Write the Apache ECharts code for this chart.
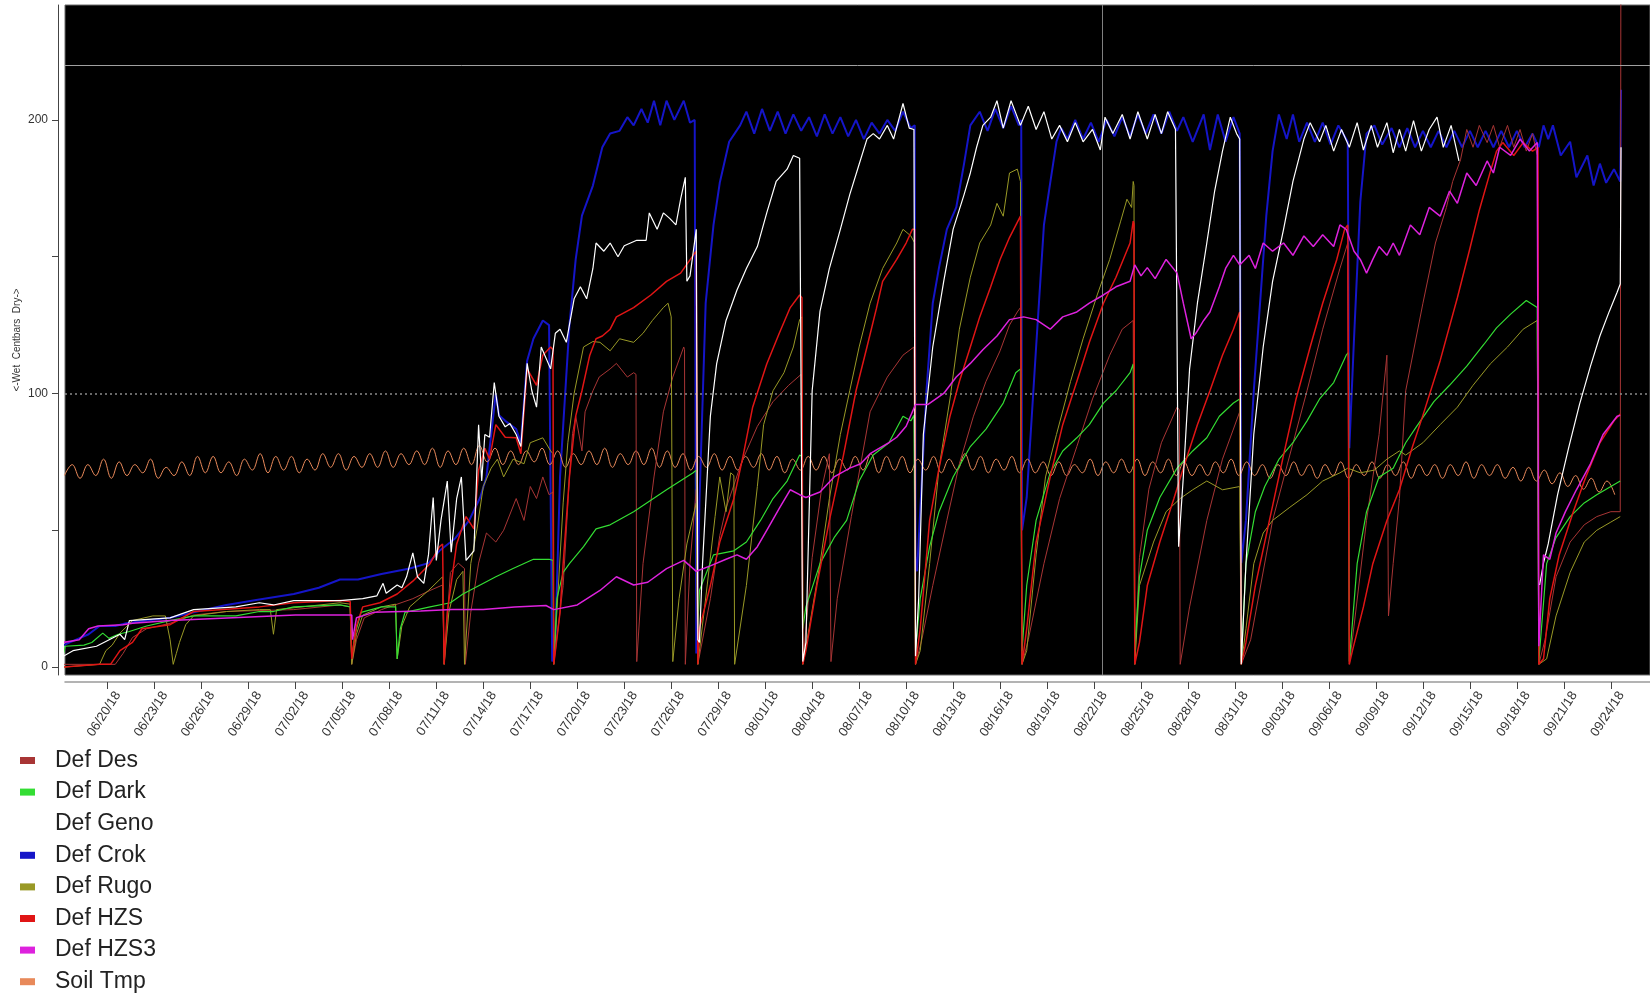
<!DOCTYPE html>
<html>
<head>
<meta charset="utf-8">
<script src="https://cdn.jsdelivr.net/npm/echarts@6/dist/echarts.min.js"></script>
<style>
  html, body { margin: 0; padding: 0; background: #fff; }
  #chart { width: 1650px; height: 998px; }
</style>
</head>
<body>
<div id="chart"></div>
<script>
// x values are days since 06/20/18 00:00, y values are centibars

// tick labels every 3 days
const dateLabels = ['06/20/18','06/23/18','06/26/18','06/29/18','07/02/18','07/05/18','07/08/18','07/11/18',
  '07/14/18','07/17/18','07/20/18','07/23/18','07/26/18','07/29/18','08/01/18','08/04/18','08/07/18',
  '08/10/18','08/13/18','08/16/18','08/19/18','08/22/18','08/25/18','08/28/18','08/31/18','09/03/18',
  '09/06/18','09/09/18','09/12/18','09/15/18','09/18/18','09/21/18','09/24/18'];
const yLabelValues = [0, 100, 200];
const yTickValues = [0, 50, 100, 150, 200];

// reference lines
const upperLimit = 220;
const lowerLimit = 100;
const markerDay = 63.5;

const desData = [[-2.8,1],[0.5,1],[1.0,5],[1.6,10.8],[2.5,14],[4,16],[5.5,19],[7.6,20.3],[11.9,21],[14.85,22.7],
  [15.5,22],[15.6,1],[15.9,10],[16.4,18],[17.5,21],[18.5,23],[19.5,25],[20.6,28],[21.4,30],[21.5,1],[21.9,34.6],
  [22.4,38],[22.8,36],[22.85,1],[23.2,20],[23.7,38],[24.2,49],[24.8,45.7],[25.3,50],[26.1,61.6],[26.6,53.6],
  [27.0,66],[27.4,61.6],[27.8,69.5],[28.2,63],[28.45,64],[28.5,1],[29.1,29.8],[29.5,69.5],[29.7,85.4],[29.9,91.7],
  [30.3,79],[30.5,93.3],[31.0,101],[31.4,106],[32.1,109],[32.5,111],[33.2,106],[33.6,107.6],[33.75,107],[33.8,2],
  [34.2,37.8],[34.9,69.5],[35.5,93.3],[36.1,106],[36.8,117],[36.85,116],[36.9,1],[37.2,37.8],[37.6,65],[37.7,1],
  [38.5,25],[39.1,48],[39.5,58],[40.5,75],[41.5,88],[42.5,97],[43.5,103],[44.3,107],[44.4,1],[45.0,40],[45.6,65],
  [46.1,78],[46.2,2],[46.6,25],[47.5,55],[48.7,93.3],[49.8,106],[50.8,114],[51.5,117],[51.6,1],[52.0,10],
  [52.7,29.8],[53.6,53.6],[54.4,74.3],[55.3,91.7],[56.1,104.4],[57.0,115.6],[57.6,125],[58.1,129.8],[58.3,131.4],
  [58.4,1],[58.8,10],[59.8,37.8],[60.8,61.6],[61.9,80.6],[62.9,98],[64.0,114],[64.8,123.5],[65.5,126.7],[65.6,1],
  [65.9,40],[66.5,65],[67.3,82],[68.3,95],[68.45,94],[68.5,1],[69.1,22],[70.2,53.6],[71.2,76],[72.3,93.3],[72.4,1],
  [73.0,10],[74.4,53.6],[75.5,77.5],[76.6,101],[77.6,123.5],[78.7,145.7],[79.2,155],[79.3,1],[79.6,15],[80.4,53.6],
  [81.2,85],[81.7,114],[81.8,18.7],[82.1,37.8],[82.5,61.6],[82.9,101],[84.0,133],[84.8,155],[85.5,168],[85.9,177.5],
  [86.4,185.4],[86.8,196.5],[87.2,190],[87.6,198],[88.1,191.7],[88.5,198],[88.9,190],[89.4,198],[89.8,190],
  [90.2,196.5],[90.6,188.6],[91.0,195],[91.3,187],[91.4,1],[91.8,10],[92.5,33],[93.4,45.7],[94.3,52],[95.1,55],
  [96.0,56.8],[96.6,56.8],[96.65,300]];

const darkData = [[-2.8,5],[-2.7,7.6],[-1.5,8],[-1.0,9],[-0.3,12.4],[0.1,10.5],[0.7,12],[1.4,13],[2.5,15],[4,17],
  [5.5,18.7],[8.2,18.7],[9.7,20.3],[10.6,20.3],[11.9,22],[14.85,22.7],[15.5,22],[15.6,3],[15.8,12],[16.2,20],
  [17.5,22],[18.4,22],[18.5,3],[18.7,14],[19.0,20],[20.6,22],[21.9,23.5],[22.7,26.7],[23.8,30],[24.8,33],[25.9,36],
  [27.2,39.4],[28.2,39.4],[28.45,39],[28.5,1.3],[28.7,25],[29.1,34.6],[29.5,37.8],[30.4,44],[31.2,50.5],[32.1,52],
  [33.6,56.8],[35.7,64.8],[37.4,71],[37.6,72],[37.7,14],[37.8,28],[38.7,41],[40.0,42.5],[40.8,45.7],[41.7,53.6],
  [42.5,61.6],[43.4,68],[44.2,77.5],[44.35,77],[44.4,14],[44.6,22],[45.5,37.8],[46.4,47.3],[47.2,53.6],[48.0,68],
  [48.9,77.5],[49.9,82],[50.8,91.7],[51.3,90],[51.5,92],[51.6,6],[51.9,25],[52.5,44],[53.1,56.8],[54.0,69.5],
  [55.1,80.6],[56.1,87],[57.2,96.5],[58.0,107.6],[58.3,109],[58.4,6],[58.7,29.8],[59.3,53.6],[60.2,71],[61.0,79],
  [61.9,83.8],[62.7,88.6],[63.6,96.5],[64.4,101],[65.3,107.6],[65.5,110.8],[65.6,6],[65.9,33],[66.4,50],[67.2,62],
  [68.3,72.7],[69.3,79],[70.2,83.8],[71.0,91.7],[71.9,96.5],[72.3,98],[72.4,2],[72.7,37.8],[73.3,56.8],[73.9,66],
  [74.8,75.9],[75.7,82],[76.6,90],[77.4,98],[78.3,104],[79.1,114],[79.25,115],[79.3,2],[79.8,37.8],[80.4,56.8],
  [81.2,69.5],[82.1,72.7],[82.9,82],[83.6,88],[84.7,97],[85.7,103],[86.8,110],[87.9,118],[88.7,124],[89.6,129],
  [90.6,134],[91.3,131.4],[91.4,2],[91.9,37.8],[92.5,47.3],[93.4,55],[94.3,60],[95.1,63],[96.0,66],[96.6,68]];

const genoData = [[-2.8,4],[-2.2,6],[-0.7,7.6],[0.8,12],[1.1,10],[1.4,17],[4,18],[5.5,21],[8.2,22],[9.7,23.5],
  [10.6,22.7],[11.9,24.3],[14.85,24.3],[16.3,25],[17.2,26],[17.6,30.6],[17.8,27],[18.5,30],[18.8,29],[19.1,33],
  [19.5,41.7],[19.8,33],[20.2,30.6],[20.5,41],[20.8,62],[21.0,39],[21.3,53.7],[21.7,68],[21.95,42],[22.3,61.6],
  [22.6,69.5],[22.9,39],[23.4,42.5],[23.7,88.6],[23.9,68],[24.1,85],[24.4,84],[24.7,104],[25.0,91.7],[25.4,87.8],
  [25.7,89],[26.1,85],[26.4,80.6],[26.8,111],[27.1,101],[27.4,95],[27.7,117],[28.3,109],[28.6,122],[28.9,123.5],
  [29.3,118.7],[29.8,134.6],[30.2,139],[30.6,134.6],[31.0,145.7],[31.2,155],[31.7,152],[32.1,155],[32.6,150],
  [33.0,154],[33.4,155],[33.8,156],[34.4,156],[34.6,166],[35.1,160],[35.5,166],[35.9,164],[36.3,161.6],[36.6,171],
  [36.9,179],[37.0,141],[37.2,143],[37.6,160],[37.7,10],[37.8,9],[38.0,37.8],[38.5,91.7],[38.9,110.8],[39.5,126.7],
  [40.2,137.8],[40.8,145.7],[41.5,153.7],[42.1,166],[42.7,177.5],[43.4,182],[43.8,187],[44.2,186],[44.4,2],[44.6,9],
  [45.0,101],[45.5,130],[46.1,145.7],[46.8,160],[47.4,172.7],[48.0,183.8],[48.5,193],[48.9,195],[49.3,193],
  [49.8,198],[50.2,193],[50.8,206],[51.2,197],[51.5,196.5],[51.6,4],[51.8,25],[52.1,85],[52.7,117],[53.4,141],
  [54.0,160],[54.7,172.7],[55.1,180.6],[55.5,190],[55.9,198],[56.4,201],[56.8,207],[57.2,197],[57.7,207],[58.3,198],
  [58.8,205],[59.3,196.5],[59.8,203],[60.3,193],[60.8,198],[61.3,192],[61.8,199],[62.3,192],[62.9,196.5],[63.4,189],
  [63.7,201],[64.2,195],[64.8,202],[65.3,193],[65.8,203],[66.4,193],[66.9,202],[67.3,195],[67.7,203],[68.2,196.5],
  [68.4,44],[68.7,69.5],[69.1,109],[69.6,133],[70.2,155],[70.7,174],[71.2,188.6],[71.7,201],[72.1,195],[72.3,193],
  [72.4,1],[72.7,37.8],[73.2,85],[73.8,117],[74.4,141],[75.1,160],[75.7,177.5],[76.4,193],[76.8,199],[77.4,192],
  [77.8,198],[78.3,188.6],[78.8,196.5],[79.3,190],[79.8,199],[80.2,189],[80.7,198],[81.1,190],[81.7,199],[82.1,188],
  [82.5,196.5],[82.9,188.6],[83.4,199.7],[83.9,188.6],[84.4,196.5],[84.9,201],[85.3,190],[85.8,198],[86.3,185],
  [86.4,null],[91.45,30],[91.7,38],[92.0,45],[92.6,63],[93.3,80],[94.0,96],[94.7,110],[95.3,121],[95.9,130],
  [96.4,137],[96.6,140],[96.65,190]];

const crokData = [[-2.8,8],[-2,10],[-1.2,12],[-0.5,15],[0.5,15],[1.2,16],[2.5,17],[4,18],[5.5,20],[7.6,22.7],
  [9.5,24.5],[11.9,26.7],[13.5,29],[14.85,32],[16,32],[17.5,34],[19.3,36],[20.5,38],[21.2,42.5],[22.2,47],
  [23.1,53.6],[23.8,62],[24.2,69.5],[24.8,100],[25.0,92],[25.4,90],[26.1,87],[26.4,82],[26.8,112],[27.2,120],
  [27.8,126.7],[28.2,125],[28.4,2],[28.6,10],[28.9,69.5],[29.5,125],[29.9,149],[30.3,165],[31.0,176],[31.6,190],
  [32.1,195],[32.7,196],[33.2,201],[33.6,198],[34.1,204],[34.5,199],[34.9,207],[35.3,198],[35.7,207],[36.2,200],
  [36.8,207],[37.2,199],[37.5,200],[37.6,5],[37.8,60],[38.2,133],[38.7,161.6],[39.1,177],[39.7,192],[40.4,198],
  [40.8,203],[41.3,195],[41.8,204],[42.3,196],[42.8,203],[43.3,195],[43.8,202],[44.3,196],[44.8,201],[45.3,194],
  [45.8,202],[46.3,195],[46.8,201],[47.3,194],[47.8,200],[48.3,193],[48.8,199],[49.3,195],[49.8,200],[50.3,196],
  [50.8,203],[51.3,197],[51.55,198],[51.6,40],[51.7,35],[52.3,101],[52.7,133],[53.1,146],[53.6,160],[54.2,168],
  [54.7,184],[55.1,198],[55.7,203],[56.2,196],[56.7,204],[57.2,197],[57.7,205],[58.2,198],[58.35,200],[58.4,50],
  [58.7,62],[59.3,117],[59.8,161.6],[60.2,177],[60.6,192],[60.9,197],[61.3,193],[61.8,200],[62.3,193],[62.8,199],
  [63.3,192],[63.8,200],[64.3,194],[64.8,201],[65.3,194],[65.8,202],[66.3,195],[66.8,202],[67.3,195],[67.8,203],
  [68.3,196],[68.7,201],[69.3,192],[70.0,202],[70.4,189],[70.9,202],[71.4,192],[71.9,201],[72.3,195],[72.4,38],
  [72.7,53.7],[73.2,101],[73.6,133],[74.0,165],[74.4,188.6],[74.8,202],[75.3,193],[75.7,202],[76.1,192],[76.6,199],
  [77.1,192],[77.6,199],[78.1,191],[78.6,198],[79.2,192],[79.3,80],[79.6,120],[80.0,170],[80.4,195],[80.9,198],
  [81.4,191],[82,197],[82.5,190],[83,197],[83.5,190],[84,196],[84.5,190],[85,196],[85.5,190],[86,196],[86.5,190],
  [87,196],[87.5,190],[88,196],[88.5,190],[89,196],[89.5,190],[90,196],[90.5,190],[91.0,195],[91.4,190],[91.7,198],
  [92.0,193],[92.3,198],[92.8,187],[93.4,192],[93.8,179],[94.5,187],[94.9,176],[95.3,184],[95.7,177],[96.2,182],
  [96.6,177.5],[96.65,211]];

const rugoData = [[-2.8,0],[-0.5,1],[-0.1,6],[0.3,8],[0.8,12.4],[1.6,17],[2.9,18.7],[3.7,18.7],[4.0,10],[4.2,1],
  [4.4,5],[4.6,9],[5.0,15.5],[5.5,18.7],[7.6,20.3],[9.7,21],[10.4,21],[10.6,12],[10.8,21],[14.85,23.5],[15.5,23],
  [15.6,1],[15.9,12],[16.3,19],[17.5,22],[18.4,23],[18.5,3],[18.8,15],[19.3,22],[20.5,28],[21.4,33],[21.5,1],
  [21.8,20],[22.3,32],[22.7,35],[22.8,1],[23.2,37.8],[23.6,50.5],[24.0,66],[24.5,72.7],[24.9,76],[25.3,69.5],
  [25.9,76],[26.6,74.3],[27.0,82],[27.8,83.8],[28.3,79],[28.45,78],[28.5,1],[28.8,30],[29.1,60],[29.4,82],[29.8,100],
  [30.4,117],[31.0,119],[31.45,118.7],[32.1,115.6],[32.7,120],[33.6,118.7],[34.2,122],[34.8,126.7],[35.5,131.4],
  [35.8,133],[36.0,128],[36.1,2],[36.5,25],[37.0,45],[37.6,60],[37.7,1],[38.3,30],[38.8,55],[39.1,69.5],[39.5,56.8],
  [39.8,71],[40.0,70],[40.05,1],[40.8,29.8],[41.5,66],[41.9,88.6],[42.5,101],[43.2,107.6],[43.8,117],[44.2,127],
  [44.35,128],[44.4,1],[44.8,14],[45.5,37.8],[46.1,61.6],[46.8,85],[47.4,101],[48.0,117],[48.7,133],[49.5,145.7],
  [50.4,155],[50.8,160],[51.3,157.6],[51.55,155],[51.6,1],[51.9,6],[52.5,37.8],[53.1,72.7],[53.8,98],[54.4,123.5],
  [55.1,142.5],[55.7,155],[56.4,161.6],[56.8,169.5],[57.2,164.8],[57.6,180.6],[58.1,182],[58.3,177.5],[58.4,1],
  [58.7,6],[59.3,41],[59.9,69.5],[60.6,85],[61.5,104.4],[62.3,120],[63.2,136],[64.0,149],[64.7,163],[65.1,171],
  [65.4,168],[65.5,177.5],[65.55,176],[65.6,1],[65.9,29.8],[66.8,45.7],[67.6,56.8],[68.5,61.6],[69.3,64.8],
  [70.2,68],[71.2,64.8],[72.3,66],[72.4,1],[72.7,14],[73.2,37.8],[73.8,49],[74.4,53.6],[75.5,58.4],[76.6,63],
  [77.6,68],[78.7,71],[79.2,72.7],[80.0,71],[80.9,72],[81.7,76],[82.5,79],[82.9,77.5],[84.0,82],[85.1,88.6],
  [86.2,95],[87.2,103],[88.3,110.8],[89.4,117],[90.4,123.5],[91.3,126.7],[91.4,1],[91.9,3],[92.5,18.7],[93.4,34.6],
  [94.3,45.7],[95.1,50],[96.0,53],[96.6,55]];

const hzsData = [[-2.8,0],[-0.5,1],[0.2,1],[0.8,6],[1.6,9],[2.2,14],[4,15.5],[5.5,20.3],[9.7,22],[11.9,23.5],
  [14.85,24.3],[15.5,24],[15.6,3],[15.9,15],[16.3,22],[17.4,23.5],[18.5,26.7],[19.5,31.4],[20.6,37.8],[21.2,44],
  [21.4,45],[21.5,1],[21.7,20],[22.3,45],[22.9,55],[23.4,50.5],[23.7,72],[24.1,80],[24.4,76],[24.8,88.6],[25.4,84],
  [26.1,83.8],[26.4,78],[26.8,109],[27.4,103],[27.8,114],[28.3,117],[28.45,116],[28.5,1],[28.9,20],[29.1,37.8],
  [29.5,69.5],[29.9,91.7],[30.3,101],[30.8,114],[31.2,120],[31.6,121],[32.1,123.5],[32.5,128],[33.6,131.4],
  [34.7,136],[35.7,141],[36.6,144],[37.4,150.5],[37.6,152],[37.7,1],[37.8,14],[38.5,29.8],[39.1,45.7],[40.0,61.6],
  [40.6,77.5],[41.2,95],[42.1,110.8],[42.9,122],[43.6,131.4],[44.2,136],[44.35,135],[44.4,1],[44.6,6],[45.3,29.8],
  [46.1,53.6],[47.0,77.5],[47.8,101],[48.5,117],[49.1,131],[49.5,141],[50.4,149],[51.0,155],[51.4,160],[51.55,160],
  [51.6,1],[51.9,14],[52.5,53.6],[53.1,72.7],[53.8,91.7],[54.4,104.4],[55.1,117],[55.7,128],[56.4,139],[57.0,149],
  [57.6,157],[58.3,164.8],[58.35,165],[58.4,1],[58.7,14],[59.3,45.7],[60.2,69.5],[61.0,88.6],[61.9,104.4],
  [62.7,118.7],[63.6,133],[64.4,142.5],[65.3,155],[65.5,163],[65.55,162],[65.6,1],[65.9,9],[66.4,29.8],[67.2,45.7],
  [68.1,61.6],[68.7,72.7],[69.6,88.6],[70.4,101],[71.2,114],[71.9,123.5],[72.3,129.8],[72.35,130],[72.4,1],[72.7,9],
  [73.3,29.8],[74.2,53.6],[75.1,77.5],[75.9,98],[76.8,117],[77.6,133],[78.5,149],[79.0,160],[79.2,161.6],[79.3,1],
  [79.5,6],[80.2,22],[80.8,37.8],[81.7,53.6],[82.5,64.8],[83.3,80],[84.0,92],[85.1,112],[86.2,135],[87.0,153],
  [87.6,167],[88.3,181],[88.7,188.6],[89.1,191.7],[89.8,187],[90.4,191.7],[91.0,188.6],[91.35,190],[91.4,1],
  [91.7,3],[92.1,25],[92.7,41],[93.6,56.8],[94.4,69.5],[95.3,82],[96.2,90],[96.6,92.5]];

const hzs3Data = [[-2.8,9],[-1.8,10],[-1.2,14],[-0.6,15],[1.0,15.5],[1.6,16],[4,17],[8,18],[12,19],[15,19],
  [15.6,19],[15.65,10],[15.9,18],[17,20],[20,20.5],[22,21],[24,21],[26,22],[28,22.5],[28.5,21],[30,22.7],
  [31.45,28],[32.5,33],[33.6,30],[34.5,31],[35.7,36],[36.8,39],[37.6,35],[38.5,37],[39.5,39.4],[40.2,41],
  [40.8,39.4],[41.5,44],[42.1,50],[42.9,58],[43.6,64.8],[44.2,63],[44.6,62],[45.5,64],[46.4,69.5],[47.4,72.7],
  [48.1,74.3],[48.7,78],[49.3,80],[49.9,82],[50.4,84],[51.0,88],[51.6,96],[52.4,96],[53.4,100],[54.2,106],
  [55.1,111],[55.9,116],[56.8,121],[57.6,127],[58.5,128],[59.3,127],[60.2,123.5],[61.0,128],[61.9,129.8],
  [62.7,133],[63.6,136],[64.4,139],[65.3,141],[65.6,147],[66.0,143],[66.4,146],[66.9,142],[67.6,149],[68.3,144],
  [68.7,133],[69.2,120],[69.5,122],[70.0,126.7],[70.4,129.8],[71.0,139],[71.4,145.7],[71.9,150.5],[72.3,147],
  [72.9,150.5],[73.3,145.7],[73.8,155],[74.4,152],[75.1,155],[75.7,150.5],[76.4,157.6],[77.0,153.7],[77.6,158],
  [78.3,153.7],[78.7,161.6],[79.1,160],[79.6,152],[80.0,149],[80.4,144],[80.8,149],[81.2,153.7],[81.7,150.5],
  [82.1,155],[82.5,150.5],[83.2,161.6],[83.8,158],[84.4,168],[85.1,164.8],[85.7,174],[86.2,169.5],[86.8,180.6],
  [87.4,176],[88.1,185],[88.5,180.6],[88.9,190],[89.6,187],[90.2,193],[90.8,188.6],[91.3,191.7],[91.4,7.6],
  [91.7,41],[92.1,39.4],[92.5,49],[93.1,56.8],[93.8,64.8],[94.7,74.3],[95.5,85],[96.4,91.7],[96.6,92]];

// soil temperature, one reading every half day starting at day -2.75
const soilStart = -2.75;
const soilStep = 0.5;
const soilTmp = [70,74,69,74,70,76,69,75,70,74,71,76,69,73,70,75,70,77,71,77,71,75,70,76,72,78,71,77,72,77,
  71,76,72,78,73,78,72,77,73,78,73,79,73,78,74,79,74,80,73,79,74,80,74,81,75,80,74,79,74,79,75,80,74,79,73,78,
  74,79,74,80,73,78,74,79,74,80,73,79,73,78,72,77,73,78,72,77,72,77,73,78,72,77,71,76,72,77,72,77,71,76,72,77,
  72,78,71,77,72,77,71,76,72,77,71,76,72,78,72,77,71,76,72,77,71,76,71,75,70,75,70,74,71,76,70,75,71,76,71,76,
  70,75,71,76,70,75,70,74,70,75,71,76,70,75,70,74,69,74,70,75,70,74,69,74,70,75,69,74,70,75,69,74,70,75,69,74,
  70,74,69,74,70,75,69,74,70,74,69,73,68,73,68,72,67,71,66,70,65,69,64,68,63];

const soilData = soilTmp.map((v, i) => [soilStart + i * soilStep, v]);
const tickDays = dateLabels.map((_, i) => i * 3);

const FONT = "Arial, 'Liberation Sans', sans-serif";

// drawing order: first is at the bottom
const seriesDefs = [
  { name: 'Def Crok', data: crokData, color: '#1515c8', width: 2 },
  { name: 'Soil Tmp', data: soilData, color: '#e8895a', width: 1, smooth: 0.4 },
  { name: 'Def Des', data: desData, color: '#a83535', width: 1 },
  { name: 'Def Rugo', data: rugoData, color: '#999926', width: 1 },
  { name: 'Def Dark', data: darkData, color: '#33dd33', width: 1.2 },
  { name: 'Def HZS', data: hzsData, color: '#e01515', width: 1.5 },
  { name: 'Def Geno', data: genoData, color: '#ffffff', width: 1.2 },
  { name: 'Def HZS3', data: hzs3Data, color: '#dd22dd', width: 1.5 }
];
const legendOrder = ['Def Des', 'Def Dark', 'Def Geno', 'Def Crok', 'Def Rugo', 'Def HZS', 'Def HZS3', 'Soil Tmp'];

const chart = echarts.init(document.getElementById('chart'));

const series = seriesDefs.map((s, i) => ({
  name: s.name,
  type: 'line',
  data: s.data,
  showSymbol: false,
  symbol: 'none',
  smooth: s.smooth || false,
  connectNulls: false,
  clip: true,
  color: s.color,
  lineStyle: { color: s.color, width: s.width },
  emphasis: { disabled: true },
  z: 2 + i
}));

// reference lines ride on the bottom series
series[0].markLine = {
  silent: true,
  symbol: ['none', 'none'],
  label: { show: false },
  animation: false,
  data: [
    { yAxis: upperLimit, lineStyle: { color: '#a0a0a0', type: 'solid', width: 1 } },
    { yAxis: lowerLimit, lineStyle: { color: '#8a8a8a', type: [2, 3], width: 1.5 } },
    { xAxis: markerDay, lineStyle: { color: '#808080', type: 'solid', width: 1 } }
  ]
};

const option = {
  animation: false,
  backgroundColor: '#ffffff',
  grid: {
    left: 65,
    right: 0,
    top: 5,
    bottom: 323,
    show: true,
    backgroundColor: '#000000',
    borderColor: '#6a6a6a',
    borderWidth: 1
  },
  legend: {
    data: legendOrder,
    orient: 'vertical',
    left: 20,
    top: 749,
    padding: 0,
    height: 260,
    icon: 'rect',
    itemWidth: 15,
    itemHeight: 7,
    itemGap: 8.6,
    selectedMode: false,
    textStyle: {
      fontFamily: FONT,
      fontSize: 23,
      lineHeight: 23,
      color: '#222222',
      padding: [0, 0, 0, 15]
    }
  },
  xAxis: {
    type: 'value',
    min: -2.71,
    max: 98.5,
    offset: 7,
    axisLine: { show: true, onZero: false, lineStyle: { color: '#9a9a9a', width: 1.5 } },
    axisTick: { show: true, length: 7, customValues: tickDays, lineStyle: { color: '#444' } },
    axisLabel: {
      customValues: tickDays,
      rotate: 57,
      margin: 4,
      verticalAlign: 'top',
      padding: [6, 0, 0, 0],
      fontFamily: FONT,
      fontSize: 13,
      color: '#333333',
      formatter: (v) => dateLabels[Math.round(v / 3)] || ''
    },
    splitLine: { show: false }
  },
  yAxis: {
    type: 'value',
    min: -2.9,
    max: 242,
    offset: 7,
    name: '<-Wet  Centbars  Dry->',
    nameLocation: 'middle',
    nameGap: 36,
    nameMoveOverlap: false,
    nameTextStyle: { fontFamily: FONT, fontSize: 10, color: '#333333' },
    axisLine: { show: true, onZero: false, lineStyle: { color: '#444', width: 1 } },
    axisTick: { show: true, length: 6, customValues: yTickValues, lineStyle: { color: '#444' } },
    axisLabel: {
      customValues: yLabelValues,
      margin: 10,
      fontFamily: FONT,
      fontSize: 12,
      color: '#333333'
    },
    splitLine: { show: false }
  },
  series: series
};

chart.setOption(option);
</script>
</body>
</html>
